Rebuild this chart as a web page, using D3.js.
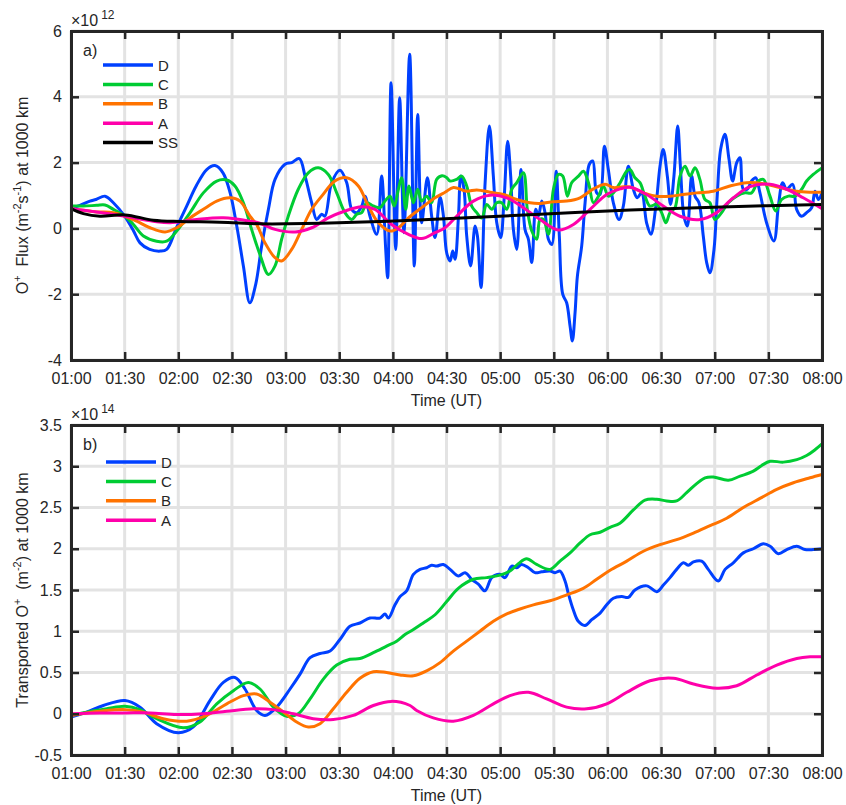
<!DOCTYPE html>
<html>
<head>
<meta charset="utf-8">
<script src="https://cdn.jsdelivr.net/npm/d3@7"></script>
<style>
    body { margin: 0; background: #fff; }
    svg text { font-family: "Liberation Sans", Arial, Helvetica, sans-serif; fill: #262626; }
</style>
</head>
<body>
<div class="chart"></div>
<script>
// time in minutes after 01:00 UT, values in units of 1e12 (flux) and 1e14 (transported)
const timeTicks = ["01:00", "01:30", "02:00", "02:30", "03:00", "03:30", "04:00", "04:30",
    "05:00", "05:30", "06:00", "06:30", "07:00", "07:30", "08:00"];
const fluxTicks = [-4, -2, 0, 2, 4, 6];
const transTicks = [-0.5, 0, 0.5, 1, 1.5, 2, 2.5, 3, 3.5];

const seriesNames = ["D", "C", "B", "A", "SS"];
const seriesColors = ["#0040ff", "#00cc33", "#ff7300", "#ff00aa", "#000000"];

const fluxD = [[0, 0.62], [5, 0.70], [10.6, 0.83], [14, 0.88], [19, 0.98], [23.7, 0.78], [30, 0.37], [35, -0.08],
    [38.6, -0.44], [44, -0.64], [50, -0.69], [53.5, -0.64], [59, 0.02], [64.7, 0.68], [70, 1.29], [75.9, 1.79],
    [80.5, 1.91], [85, 1.69], [89, 1.08], [92.7, 0.07], [96.4, -1.14], [100, -2.26], [103.3, -1.7], [106.6, -0.54],
    [110.4, 0.58], [114.1, 1.49], [119.7, 1.95], [123.4, 2.0], [127.7, 2.12], [130.9, 1.59], [134.6, 0.78],
    [137.4, 0.27], [140.2, 0.43], [142, 0.37], [145.8, 1.39], [150.4, 1.77], [154.2, 1.39], [157, 0.58],
    [159.8, 0.48], [162.6, 0.68], [164.4, 0.98], [167.2, 0.37], [171, -0.18], [173.7, 1.59], [176, -0.64],
    [177.1, -1.5], [179, 4.43], [181.6, -0.64], [183.8, 3.97], [186.2, -0.13], [189.4, 5.29], [192, -1.14],
    [193.9, 3.46], [196.1, 0.17], [199.3, 1.54], [201.7, 0.37], [203.6, -0.28], [206.4, 0.95], [208.3, 0.37],
    [210.1, -0.74], [212, -0.99], [213.5, -0.69], [214.8, -0.94], [216.7, 0.37], [218, 1.59], [219.8, 1.19],
    [221.3, -0.23], [223.5, -1.14], [226, 0.07], [227.3, -0.23], [229.3, -1.8], [231.6, 1.39], [234, 3.11],
    [236.2, 1.59], [238.1, 0.17], [240.3, -0.28], [242.2, 0.88], [244.2, 2.65], [245.9, 1.59], [247.4, -0.03],
    [249.3, -0.64], [251.7, 1.79], [253.9, -0.03], [255.8, -0.33], [257.7, -1.04], [259.9, 0.58], [261.4, 0.37],
    [263.3, 0.83], [265.1, 0.48], [267, -0.33], [268.9, -0.49], [271.3, 1.74], [273.1, -0.23], [275, -2.0],
    [277.2, -2.26], [279.1, -2.97], [280.4, -3.42], [281.9, -2.56], [283.2, -1.45], [285.6, -0.54], [287.5, 0.78],
    [289.9, 1.95], [291.8, 2.05], [294, 1.08], [295.9, 1.03], [298.3, 2.5], [300.5, 1.79], [303.3, 0.78],
    [306.5, 0.27], [308.9, 0.68], [311.7, 1.89], [314.5, 1.19], [316.7, 0.93], [319.1, 1.08], [321.9, 0.17],
    [324.3, -0.18], [327.1, 0.68], [329.4, 1.89], [331.2, 2.4], [333.5, 1.59], [335.3, 0.73], [337.2, 1.59],
    [339.3, 3.11], [340.9, 1.79], [342.8, 0.37], [344.7, 0.07], [347.1, 1.59], [349, 0.98], [351.2, 0.78],
    [353.6, -0.23], [355.5, -1.04], [357.3, -1.35], [359.6, -0.64], [361.4, 0.98], [363.3, 2.4], [365.7, 2.86],
    [368, 2.1], [370, 1.44], [372.3, 2.0], [374.1, 2.15], [376, 1.19], [378.2, 1.19], [380.6, 1.44], [382.9, 1.54],
    [385.3, 1.08], [389, 0.17], [393.1, -0.38], [395.6, 0.68], [398, 1.39], [400.2, 1.19], [403.6, 1.34],
    [405.8, 0.58], [408.6, 0.37], [411.4, 0.48], [414.2, 0.63], [416.1, 1.13], [418, 0.88], [420, 1.08]];

const fluxC = [[0, 0.68], [6.9, 0.68], [14.4, 0.70], [19, 0.71], [23.7, 0.58], [30.2, 0.37], [34.9, 0.12],
    [40.5, -0.23], [47.9, -0.39], [53.5, -0.39], [59.1, -0.08], [66.6, 0.48], [74, 1.08], [81.5, 1.44], [87, 1.47],
    [91.7, 1.29], [96.4, 0.78], [101, -0.03], [105.7, -0.8], [110.4, -1.4], [114.1, -1.14], [117.8, -0.33],
    [121.5, 0.37], [127.1, 1.19], [132.7, 1.69], [138.3, 1.84], [143.9, 1.64], [148.6, 1.08], [153.2, 0.48],
    [157, 0.27], [159.8, 0.43], [162.6, 0.48], [165.4, 0.78], [169.1, 0.68], [172.8, 0.63], [175.6, 0.83],
    [178.4, 0.98], [180.8, 0.68], [183.1, 1.19], [184.9, 1.54], [187.2, 0.58], [189, 1.29], [191.5, 0.78],
    [193.9, 1.19], [196.1, 0.83], [198.9, 0.98], [201.7, 0.78], [204.5, 1.49], [207.5, 1.6], [210, 1.55],
    [212, 1.44], [215.7, 1.49], [218.5, 1.59], [221.3, 1.29], [224.1, 0.68], [226.9, 0.48], [229.7, 0.32],
    [232.5, 0.73], [235.3, 0.58], [238.1, 0.78], [240.9, 0.78], [243.7, 0.58], [246.5, 1.19], [249.3, 1.39],
    [253, 1.69], [255.2, 0.58], [257.7, -0.08], [260.5, -0.33], [262.3, 0.27], [264.2, 0.27], [267, -0.18],
    [269.8, 1.19], [272.6, 1.64], [275, 1.59], [277.6, 0.98], [280, 1.39], [283.8, 1.59], [286.6, 1.74],
    [289.4, 1.39], [292.2, 0.78], [295, 0.98], [297.7, 1.29], [300.5, 0.98], [303.3, 1.08], [307.1, 1.39],
    [310.8, 1.74], [312.6, 1.79], [315.4, 1.54], [318.2, 1.39], [321, 0.98], [323.8, 0.68], [327.5, 0.73],
    [330.3, 0.48], [332.7, 0.17], [335, 0.48], [337.8, 0.63], [340.6, 1.59], [343.4, 1.89], [346.2, 1.59],
    [349, 1.84], [351.7, 1.49], [354.5, 0.88], [357.3, 0.78], [360.1, 0.27], [363.9, 0.48], [367.6, 0.78],
    [372.3, 0.98], [376.9, 1.08], [380.6, 1.08], [384.4, 1.44], [387.2, 1.49], [390.9, 0.98], [394.1, 0.53],
    [397.4, 0.88], [401.2, 0.98], [404.9, 0.98], [408.6, 1.19], [411.4, 1.44], [415.1, 1.64], [420, 1.84]];

const fluxB = [[0, 0.6], [7, 0.55], [14.4, 0.5], [23.7, 0.48], [30.2, 0.37], [36.7, 0.22], [44.2, 0.02],
    [52.6, -0.11], [59.1, 0.02], [66.6, 0.32], [74, 0.58], [81.5, 0.83], [88.9, 0.93], [94.5, 0.83], [100.1, 0.37],
    [104, 0.1], [108.5, -0.44], [114.1, -0.89], [117.8, -0.99], [123.4, -0.64], [129, -0.03], [134.6, 0.58],
    [140.2, 0.98], [147.6, 1.44], [154.2, 1.54], [160.7, 1.29], [166.3, 0.68], [171.9, 0.17], [178.4, -0.08],
    [183.1, 0.02], [188.7, 0.32], [196.1, 0.63], [203.6, 0.93], [209.2, 1.1], [213.9, 1.24], [221.3, 1.13],
    [226.9, 1.17], [234.4, 1.1], [241.8, 1.03], [249.3, 0.88], [256.7, 0.78], [262.3, 0.76], [269.8, 0.81],
    [277.2, 0.83], [284.7, 0.93], [292.2, 1.2], [298.7, 1.34], [303.3, 1.24], [308, 1.26], [312.7, 1.26],
    [320.1, 1.08], [327.5, 0.98], [335, 0.98], [342.4, 1.03], [349.9, 1.08], [359.2, 1.13], [368.5, 1.29],
    [377.9, 1.39], [387.2, 1.36], [396.5, 1.24], [405.8, 1.13], [413.3, 1.1], [420, 1.1]];

const fluxA = [[0, 0.6], [14.4, 0.5], [30.2, 0.37], [46, 0.22], [55.4, 0.17], [70.3, 0.27], [85.2, 0.32],
    [100.1, 0.22], [106, 0.15], [114.1, -0.03], [125.3, -0.11], [134.6, 0.02], [143.9, 0.32], [153.2, 0.53],
    [162.6, 0.66], [170, 0.58], [179.3, 0.12], [188.7, -0.18], [196.1, -0.31], [203.6, -0.13], [209.2, 0.02],
    [215.7, 0.37], [225, 0.83], [234.4, 1.01], [243.7, 0.93], [253, 0.63], [262.3, 0.27], [272.6, -0.05],
    [281, 0.12], [290.3, 0.58], [299.6, 1.03], [307.1, 1.2], [312.7, 1.25], [321.9, 1.03], [331.2, 0.68],
    [340.6, 0.37], [351.8, 0.27], [361.1, 0.48], [370.4, 0.93], [379.7, 1.27], [390.9, 1.34], [400.2, 1.19],
    [409.5, 0.93], [420, 0.6]];

const fluxSS = [[0, 0.6], [6.9, 0.45], [16.2, 0.37], [30.2, 0.41], [46, 0.25], [61, 0.21], [83.3, 0.19],
    [105.7, 0.14], [121.5, 0.14], [149.5, 0.17], [177.5, 0.22], [209.2, 0.29], [262.3, 0.43], [312.7, 0.56],
    [368.5, 0.66], [420, 0.73]];

const transD = [[0, -0.04], [8.8, 0.02], [18.1, 0.1], [30.2, 0.16], [38.6, 0.08], [47.9, -0.12], [60, -0.23],
    [68.4, -0.16], [77.7, 0.16], [85.2, 0.38], [91.7, 0.44], [97.3, 0.3], [103.8, 0.04], [108.5, -0.02], [115, 0.08],
    [122.5, 0.3], [128.1, 0.48], [133.7, 0.68], [139.3, 0.73], [144.9, 0.76], [150.4, 0.9], [156, 1.06],
    [161.6, 1.1], [167.2, 1.16], [172.8, 1.16], [175.6, 1.21], [177.5, 1.16], [181.2, 1.32], [184, 1.42],
    [187.7, 1.49], [191.5, 1.69], [195.2, 1.75], [198.9, 1.77], [201.7, 1.8], [204.5, 1.79], [208.2, 1.81],
    [212, 1.75], [216.6, 1.67], [220.4, 1.71], [224.1, 1.63], [227.8, 1.57], [231.5, 1.49], [235.3, 1.65],
    [239.9, 1.69], [242.7, 1.65], [246.5, 1.79], [249.3, 1.77], [252, 1.81], [255.8, 1.77], [259.5, 1.71],
    [263.2, 1.72], [267.9, 1.73], [270.7, 1.71], [273.5, 1.73], [276.3, 1.61], [278.1, 1.46], [280.9, 1.26],
    [283.7, 1.12], [287.5, 1.07], [291.2, 1.14], [295.9, 1.22], [299.6, 1.32], [303.3, 1.4], [308, 1.42],
    [311.7, 1.41], [315.4, 1.5], [322, 1.55], [327.6, 1.48], [331.3, 1.56], [335, 1.65], [338.7, 1.75],
    [342.5, 1.83], [345.3, 1.8], [348.1, 1.84], [352.7, 1.85], [356.4, 1.75], [362, 1.61], [365.8, 1.75],
    [370.4, 1.83], [376, 1.95], [381.6, 2.0], [387.2, 2.06], [391, 2.03], [395.6, 1.94], [400.3, 1.99],
    [405.9, 2.03], [410.5, 1.99], [415.2, 1.99], [420, 2.0]];

const transC = [[0, -0.02], [8.8, 0.02], [20, 0.06], [30.2, 0.09], [38.6, 0.05], [47.9, -0.06], [62.8, -0.17],
    [72.1, -0.1], [81.5, 0.12], [90.8, 0.28], [99.2, 0.38], [105.7, 0.3], [113.2, 0.08], [120.6, -0.03],
    [127.1, 0.0], [133.7, 0.18], [141.1, 0.42], [148.6, 0.59], [156, 0.66], [161.6, 0.67], [169.1, 0.74],
    [176.5, 0.82], [182.1, 0.88], [186.8, 0.96], [191.5, 1.02], [197, 1.1], [203.6, 1.2], [210.1, 1.36],
    [216.6, 1.52], [225, 1.63], [232.5, 1.65], [239.9, 1.68], [245.5, 1.73], [250.2, 1.82], [254.8, 1.88],
    [260.4, 1.81], [267.9, 1.75], [273.5, 1.85], [279.1, 1.95], [284.7, 2.07], [290.3, 2.17], [295.9, 2.2],
    [301.5, 2.26], [307, 2.31], [314.5, 2.47], [321, 2.59], [327.6, 2.6], [333.1, 2.58], [338.7, 2.58],
    [344.3, 2.68], [349.9, 2.79], [354.6, 2.86], [359.2, 2.87], [367.6, 2.83], [374.2, 2.88], [381.6, 2.94],
    [386.3, 3.01], [391, 3.06], [398.4, 3.05], [405.9, 3.08], [411.4, 3.13], [416.1, 3.2], [420, 3.27]];

const transB = [[0, -0.02], [16.2, 0.03], [30.2, 0.05], [40.5, 0.02], [51.6, -0.06], [64.7, -0.09],
    [75.9, -0.02], [87.1, 0.12], [96.4, 0.22], [103.8, 0.24], [111.3, 0.14], [118.8, 0.02], [126.2, -0.1],
    [132.7, -0.16], [139.3, -0.12], [146.7, 0.06], [154.2, 0.26], [161.6, 0.43], [169.1, 0.51], [176.5, 0.5],
    [184, 0.47], [191.5, 0.46], [198.9, 0.52], [206.4, 0.62], [213.8, 0.76], [221.3, 0.88], [228.7, 1.0],
    [236.2, 1.12], [243.7, 1.21], [251.1, 1.27], [258.6, 1.32], [267.9, 1.37], [277.2, 1.44], [286.5, 1.52],
    [294, 1.63], [301.5, 1.74], [310.8, 1.85], [320.1, 1.97], [329.4, 2.05], [338.7, 2.11], [348.1, 2.19],
    [357.4, 2.28], [366.7, 2.37], [376, 2.5], [385.3, 2.61], [394.7, 2.72], [404, 2.8], [413.3, 2.86], [420, 2.9]];

const transA = [[0, 0], [16.2, 0.01], [30.2, 0.01], [44.2, 0.01], [59.1, -0.01], [74, 0], [87.1, 0.03],
    [102, 0.06], [113.2, 0.05], [124.3, 0], [135.5, -0.06], [146.7, -0.07], [157.9, -0.02], [169.1, 0.1],
    [179.3, 0.15], [189.6, 0.1], [193.3, 0.04], [202.6, -0.05], [213.8, -0.09], [225, -0.02], [236.2, 0.12],
    [245.5, 0.22], [255.8, 0.26], [266, 0.18], [277.2, 0.08], [288.4, 0.06], [299.6, 0.12], [310.8, 0.26],
    [323.8, 0.4], [336.9, 0.43], [348.1, 0.36], [361.1, 0.31], [372.3, 0.34], [383.5, 0.47], [394.7, 0.59],
    [405.9, 0.67], [413.3, 0.69], [420, 0.69]];

let W = 846, H = 805;
let left = 71, right = 822;
let axisColor = "#262626";

let t0 = Date.UTC(2000, 0, 1, 1, 0);
let toDate = m => new Date(t0 + m * 60000);
let tickDates = timeTicks.map(s => {
    let [h, m] = s.split(":");
    return new Date(Date.UTC(2000, 0, 1, +h, +m));
});

let x = d3.scaleUtc()
    .domain([toDate(0), toDate(420)])
    .range([left, right]);

let svg = d3.select(".chart").append("svg")
    .attr("width", W)
    .attr("height", H);

function drawPanel(opts) {
    let g = svg.append("g");
    let y = d3.scaleLinear().domain(opts.yDomain).range([opts.bottom, opts.top]);

    // grid
    g.append("g").selectAll("line")
        .data(tickDates)
        .join("line")
        .attr("x1", d => x(d)).attr("x2", d => x(d))
        .attr("y1", opts.top).attr("y2", opts.bottom)
        .attr("stroke", "#e3e3e3").attr("stroke-width", 3);
    g.append("g").selectAll("line")
        .data(opts.yTicks)
        .join("line")
        .attr("x1", left).attr("x2", right)
        .attr("y1", d => y(d)).attr("y2", d => y(d))
        .attr("stroke", "#e3e3e3").attr("stroke-width", 3);

    // series
    let line = d3.line()
        .x(d => x(toDate(d[0])))
        .y(d => y(d[1]))
        .curve(d3.curveCatmullRom.alpha(0.5));

    g.append("g").selectAll("path")
        .data(opts.series)
        .join("path")
        .attr("d", d => line(d))
        .attr("fill", "none")
        .attr("stroke", (d, i) => seriesColors[i])
        .attr("stroke-width", 3)
        .attr("stroke-linejoin", "round");

    // axes (ticks inward on all four sides)
    let xAxis = d3.axisBottom(x).tickValues(tickDates).tickFormat(d3.utcFormat("%H:%M"))
        .tickSizeInner(-8).tickSizeOuter(0).tickPadding(13);
    let xAxisTop = d3.axisTop(x).tickValues(tickDates).tickFormat("")
        .tickSizeInner(-8).tickSizeOuter(0);
    let yAxis = d3.axisLeft(y).tickValues(opts.yTicks).tickFormat(d => String(d))
        .tickSizeInner(-8).tickSizeOuter(0).tickPadding(9);
    let yAxisRight = d3.axisRight(y).tickValues(opts.yTicks).tickFormat("")
        .tickSizeInner(-8).tickSizeOuter(0);

    let axes = [
        [xAxis, "translate(0," + opts.bottom + ")"],
        [xAxisTop, "translate(0," + opts.top + ")"],
        [yAxis, "translate(" + left + ",0)"],
        [yAxisRight, "translate(" + right + ",0)"]
    ];
    axes.forEach(a => {
        let ag = g.append("g")
            .attr("transform", a[1])
            .attr("color", axisColor)
            .call(a[0])
            .attr("font-size", 16)
            .attr("font-family", "Liberation Sans, Arial, sans-serif");
        ag.select(".domain").attr("stroke-width", 3).attr("stroke-linecap", "square");
        ag.selectAll(".tick line").attr("stroke-width", 2.5);
    });

    // exponent label
    let ex = g.append("text")
        .attr("x", left)
        .attr("y", opts.top - 5)
        .attr("font-size", 16);
    ex.append("tspan").text("\u00d710");
    ex.append("tspan").attr("dy", -7).attr("dx", 3).attr("font-size", 12).text(opts.exponent);

    // x label
    g.append("text")
        .attr("x", (left + right) / 2)
        .attr("y", opts.bottom + 46)
        .attr("text-anchor", "middle")
        .attr("font-size", 16)
        .text("Time (UT)");

    // y label
    let yl = g.append("text")
        .attr("transform", "translate(28," + (opts.top + opts.bottom) / 2 + ") rotate(-90)")
        .attr("text-anchor", "middle")
        .attr("font-size", 16)
        .style("white-space", "pre");
    opts.ylabel.forEach(p => {
        let ts = yl.append("tspan").text(p[0]);
        if (p[1] === "sup") ts.attr("font-size", 11).attr("dy", -7);
        if (p[1] === "down") ts.attr("dy", 7);
    });

    // panel letter
    g.append("text")
        .attr("x", 83)
        .attr("y", opts.top + 25)
        .attr("font-size", 16)
        .text(opts.letter);

    // legend
    let lg = g.append("g").selectAll("g")
        .data(opts.series.map((s, i) => i))
        .join("g")
        .attr("transform", i => "translate(" + opts.legendX + "," + (opts.legendY + i * 19.4) + ")");
    lg.append("line")
        .attr("x1", 0).attr("x2", 50)
        .attr("stroke", i => seriesColors[i])
        .attr("stroke-width", 3.5);
    lg.append("text")
        .attr("x", 55)
        .attr("y", 5.5)
        .attr("font-size", 15)
        .text(i => seriesNames[i]);
}

drawPanel({
    top: 31, bottom: 360,
    yDomain: [-4, 6], yTicks: fluxTicks,
    series: [fluxD, fluxC, fluxB, fluxA, fluxSS],
    exponent: "12",
    letter: "a)",
    legendX: 103, legendY: 65,
    ylabel: [["O"], ["+", "sup"], ["  Flux (m", "down"], ["-2", "sup"], ["s", "down"], ["-1", "sup"], [") at 1000 km", "down"]]
});

drawPanel({
    top: 425, bottom: 755,
    yDomain: [-0.5, 3.5], yTicks: transTicks,
    series: [transD, transC, transB, transA],
    exponent: "14",
    letter: "b)",
    legendX: 106, legendY: 462,
    ylabel: [["Transported O"], ["+", "sup"], ["  (m", "down"], ["-2", "sup"], [") at 1000 km", "down"]]
});
</script>
</body>
</html>
